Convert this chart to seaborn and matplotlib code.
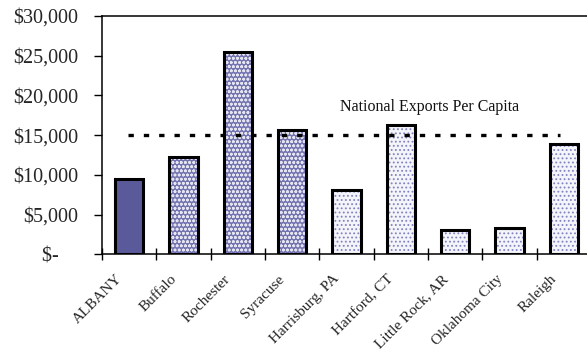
import matplotlib
matplotlib.use("Agg")
import matplotlib.pyplot as plt
from matplotlib.patches import Rectangle
from matplotlib.ticker import FixedLocator, FixedFormatter
from matplotlib.transforms import ScaledTranslation
import seaborn as sns
import pandas as pd

# Exports per capita by metro area
cities = ["ALBANY", "Buffalo", "Rochester", "Syracuse", "Harrisburg, PA",
          "Hartford, CT", "Little Rock, AR", "Oklahoma City", "Raleigh"]
exports = [9450, 12300, 25450, 15650, 8100, 16300, 3050, 3250, 13850]
groups = ["Albany", "Upstate NY", "Upstate NY", "Upstate NY", "Peer",
          "Peer", "Peer", "Peer", "Peer"]
national_per_capita = 15000
national_label = "National Exports Per Capita"

y_ticks = [0, 5000, 10000, 15000, 20000, 25000, 30000]
y_labels = ["$-    ", "$5,000", "$10,000", "$15,000", "$20,000", "$25,000", "$30,000"]

sns.set_theme(style="white")
plt.rcParams["font.family"] = ["Liberation Serif", "DejaVu Serif"]
plt.rcParams["hatch.linewidth"] = 0.8

df = pd.DataFrame({"city": cities, "exports": exports, "group": groups})

fig = plt.figure(figsize=(5.87, 3.54), dpi=100)
ax = fig.add_axes([102 / 587, 1 - 254.3 / 354, (591 - 102) / 587, (254.3 - 16) / 354])

sns.barplot(data=df, x="city", y="exports", ax=ax, width=0.52,
            color="#5A5A9B", saturation=1, linewidth=0)

blue = "#5A5A9B"
styles = {
    "Albany": dict(face=blue, hatch=None, hcol=blue),
    "Upstate NY": dict(face="#7373b0", hatch="oooo", hcol="#e4e4f2"),
    "Peer": dict(face="#f4f4fb", hatch="....", hcol="#8282c0"),
}
for patch, grp in zip(ax.patches[:len(cities)], groups):
    st = styles[grp]
    patch.set_facecolor(st["face"])
    if st["hatch"]:
        patch.set_hatch(st["hatch"])
        patch.set_edgecolor(st["hcol"])
    patch.set_linewidth(0)
    ax.add_patch(Rectangle(patch.get_xy(), patch.get_width(), patch.get_height(),
                           fill=False, edgecolor="black", linewidth=2.2, zorder=3))

# National reference line
ax.plot([-0.02, 7.93], [national_per_capita, national_per_capita],
        color="black", linewidth=2.4, dashes=(1.6, 3.0), zorder=4)
ax.text(5.52, 18500, national_label, ha="center",
        va="center", fontsize=11.5, color="#111111")

ax.set_xlim(-0.5, len(cities) - 0.5)
ax.set_ylim(0, 30000)
ax.yaxis.set_major_locator(FixedLocator(y_ticks))
ax.yaxis.set_major_formatter(FixedFormatter(y_labels))
ax.tick_params(axis="y", which="major", direction="out", length=6, width=1,
               color="black", labelsize=14.5, pad=11, left=True)

ax.set_xticks(range(len(cities)))
ax.set_xticklabels(cities, rotation=45, ha="right", va="top",
                   rotation_mode="anchor", fontsize=11)
ax.tick_params(axis="x", which="major", length=0, pad=13)
shift = ScaledTranslation(-10 / 72, 0, fig.dpi_scale_trans)
for lbl in ax.get_xticklabels():
    lbl.set_transform(lbl.get_transform() + shift)
ax.set_xticks([i - 0.5 for i in range(len(cities))], minor=True)
ax.tick_params(axis="x", which="minor", direction="inout", length=8, width=1,
               color="black", bottom=True)

ax.set_xlabel("")
ax.set_ylabel("")
for side in ["left", "bottom", "top"]:
    ax.spines[side].set_visible(True)
    ax.spines[side].set_color("black")
    ax.spines[side].set_linewidth(1.1)
ax.spines["right"].set_visible(False)

fig.savefig("out.png", dpi=100)
